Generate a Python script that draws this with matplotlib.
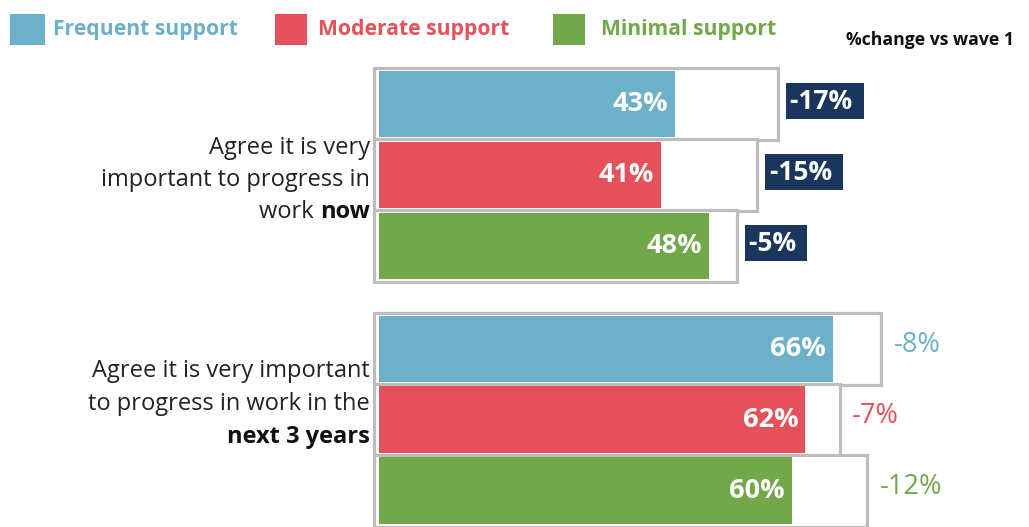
import matplotlib.pyplot as plt
from matplotlib.patches import Rectangle

# values for each question, one per support group
groups = ["Frequent support", "Moderate support", "Minimal support"]
colors = ["#6cb0c9", "#e6505a", "#72a84a"]
navy = "#1b365d"

now_vals = [43, 41, 48]
now_wave1 = [58, 55, 52]
now_change = ["-17%", "-15%", "-5%"]

future_vals = [66, 62, 60]
future_wave1 = [73, 67, 71]
future_change = ["-8%", "-7%", "-12%"]

plt.rcParams['font.family'] = ['Open Sans', 'DejaVu Sans']

fig = plt.figure(figsize=(10.29, 5.27), dpi=100)
ax = fig.add_axes([372 / 1029, 0, 657 / 1029, 467 / 527])
ax.set_xlim(-1, 94.5)
ax.set_ylim(5.96, -0.62)
ax.axis("off")

rows_now = [0, 1, 2]
rows_future = [3.45, 4.45, 5.45]


def draw_block(rows, vals, wave1, changes, boxed):
    for i, (y, v, w, ch) in enumerate(zip(rows, vals, wave1, changes)):
        # wave 1 outline behind the current bar
        ax.add_patch(Rectangle((-0.75, y - 0.51), w + 0.75, 1.02, facecolor="white",
                               edgecolor="#bdbdbd", lw=2.3, zorder=1))
        ax.barh(y, v, height=0.94, color=colors[i], zorder=2)
        ax.text(v - 1.0, y, f"{v}%", ha="right", va="center", color="white",
                fontsize=19.5, fontweight="bold", zorder=3)
        if boxed:
            ax.text(w + 1.8, y - 0.04, ch + " ", ha="left", va="center", color="white",
                    fontsize=19, fontweight="bold", zorder=3,
                    bbox=dict(boxstyle="square,pad=0.16", facecolor=navy, edgecolor="none"))
        else:
            ax.text(w + 1.8, y - 0.05, ch, ha="left", va="center", color=colors[i],
                    fontsize=19.5, zorder=3)


draw_block(rows_now, now_vals, now_wave1, now_change, True)
draw_block(rows_future, future_vals, future_wave1, future_change, False)

# question labels, right-aligned against the bars
lx = 370 / 1029
fs = 17
fig.text(lx, 1 - 148 / 527, "Agree it is very", ha="right", va="center", fontsize=fs, color="#222222")
fig.text(lx, 1 - 180 / 527, "important to progress in", ha="right", va="center", fontsize=fs, color="#222222")
t_now = fig.text(lx, 1 - 212 / 527, "now", ha="right", va="center", fontsize=fs,
                 fontweight="bold", color="#111111")
ax.annotate("work ", xy=(0, 0), xycoords=t_now, ha="right", va="bottom",
            fontsize=fs, color="#222222", annotation_clip=False)

fig.text(lx, 1 - 371 / 527, "Agree it is very important", ha="right", va="center", fontsize=fs, color="#222222")
fig.text(lx, 1 - 404 / 527, "to progress in work in the", ha="right", va="center", fontsize=fs, color="#222222")
fig.text(lx, 1 - 437 / 527, "next 3 years", ha="right", va="center", fontsize=fs,
         fontweight="bold", color="#111111")

# legend across the top
sq = [(10, 45), (275, 307), (553, 585)]
tx = [53, 318, 601]
for (x0, x1), x_t, name, c in zip(sq, tx, groups, colors):
    fig.patches.append(Rectangle((x0 / 1029, 1 - 45 / 527), (x1 - x0) / 1029, 31 / 527,
                                 facecolor=c, edgecolor="none", transform=fig.transFigure))
    fig.text(x_t / 1029, 1 - 30 / 527, name, ha="left", va="center", fontsize=15.2,
             fontweight="bold", color=c)
fig.text(846 / 1029, 1 - 40 / 527, "%change vs wave 1", ha="left", va="center",
         fontsize=12.7, fontweight="bold", color="#111111")

fig.savefig("out.png", dpi=100)
